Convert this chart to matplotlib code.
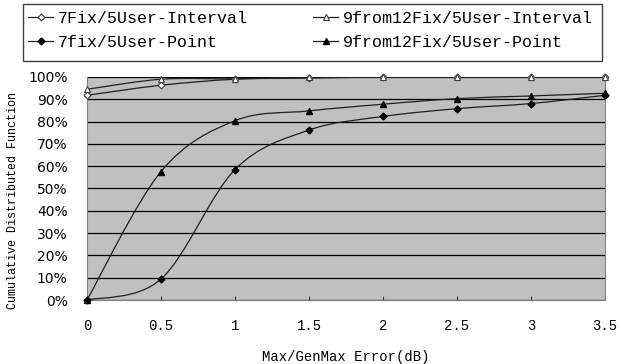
import numpy as np
import matplotlib.pyplot as plt
from matplotlib.path import Path
from matplotlib.patches import PathPatch, Rectangle

x = [0, 0.5, 1, 1.5, 2, 2.5, 3, 3.5]
fix7_interval = [0.918, 0.963, 0.99, 0.995, 1.0, 1.0, 1.0, 1.0]
fix9_interval = [0.945, 0.99, 0.992, 1.0, 1.0, 1.0, 1.0, 1.0]
fix7_point = [0.0, 0.094, 0.585, 0.762, 0.823, 0.858, 0.881, 0.918]
fix9_point = [0.0, 0.576, 0.804, 0.848, 0.878, 0.903, 0.915, 0.927]

labels = ['7Fix/5User-Interval', '9from12Fix/5User-Interval',
          '7fix/5User-Point', '9from12Fix/5User-Point']
xticks = [0, 0.5, 1, 1.5, 2, 2.5, 3, 3.5]
xticklabels = ['0', '0.5', '1', '1.5', '2', '2.5', '3', '3.5']

mono = 'Liberation Mono'
W, H = 621, 364


def smooth_path(xs, ys):
    # bezier segments like a spreadsheet "smoothed line"
    p = np.column_stack([xs, ys])
    verts = [p[0]]
    codes = [Path.MOVETO]
    n = len(p)
    for i in range(n - 1):
        p0 = p[i - 1] if i > 0 else p[i]
        p3 = p[i + 2] if i + 2 < n else p[i + 1]
        c1 = p[i] + (p[i + 1] - p0) / 6
        c2 = p[i + 1] - (p3 - p[i]) / 6
        verts += [c1, c2, p[i + 1]]
        codes += [Path.CURVE4] * 3
    return Path(verts, codes)


fig = plt.figure(figsize=(W / 100, H / 100), dpi=100)
fig.patch.set_facecolor('white')
ax = fig.add_axes([87 / W, 1 - 300 / H, (605 - 87) / W, (300 - 77) / H])
ax.set_facecolor('#c0c0c0')

series = [
    (fix7_interval, dict(marker='D', mfc='white', mec='#404040', ms=3.5, mew=0.8)),
    (fix9_interval, dict(marker='^', mfc='white', mec='#404040', ms=4.5, mew=0.8)),
    (fix7_point, dict(marker='D', mfc='black', mec='black', ms=3.5)),
    (fix9_point, dict(marker='^', mfc='black', mec='black', ms=4.5)),
]
handles = []
for ys, mk in series:
    ax.add_patch(PathPatch(smooth_path(x, ys), fill=False, edgecolor='#202020',
                           lw=0.9, zorder=3))
    ax.plot(x, ys, ls='none', zorder=4, clip_on=False, **mk)
    handles.append(plt.Line2D([], [], color='#202020', lw=0.9, **mk))

ax.set_xlim(0, 3.5)
ax.set_ylim(0, 1.0)
yt = np.arange(0, 1.01, 0.1)
ax.set_yticks(yt)
ax.set_yticklabels([f'{int(round(v * 100))}%' for v in yt], fontsize=10, family='DejaVu Sans')
ax.set_xticks(xticks)
ax.set_xticklabels(xticklabels, fontsize=10, family=mono)
ax.yaxis.grid(True, color='black', lw=0.9)
ax.set_axisbelow(True)
for s in ['left', 'bottom', 'right', 'top']:
    ax.spines[s].set_color('#808080')
ax.spines['top'].set_visible(False)
ax.tick_params(axis='x', direction='in', length=3, color='#404040', pad=14)
ax.tick_params(axis='y', length=0, pad=14)

ax.set_xlabel('Max/GenMax Error(dB)', family=mono, fontsize=10, labelpad=12)
ax.set_ylabel('Cumulative Distributed Function', family=mono, fontsize=8.5)
ax.yaxis.set_label_coords((19 - 87) / 518, (300 - 201) / 223)

# legend box drawn separately so the columns can sit where the original has them
fig.add_artist(Rectangle((23 / W, 1 - 61 / H), (602 - 23) / W, 57 / H,
                         transform=fig.transFigure, fill=False, edgecolor='#404040', lw=1))
order = [0, 2, 1, 3]
fig.legend([handles[i] for i in order], [labels[i] for i in order], ncol=2,
           loc='upper left', bbox_to_anchor=(28 / W, 1 - 11 / H),
           prop={'family': mono, 'size': 12}, frameon=False,
           handlelength=1.5, handletextpad=0.3, columnspacing=3.9,
           borderpad=0, borderaxespad=0, labelspacing=0.55)

fig.savefig('out.png', dpi=100)
